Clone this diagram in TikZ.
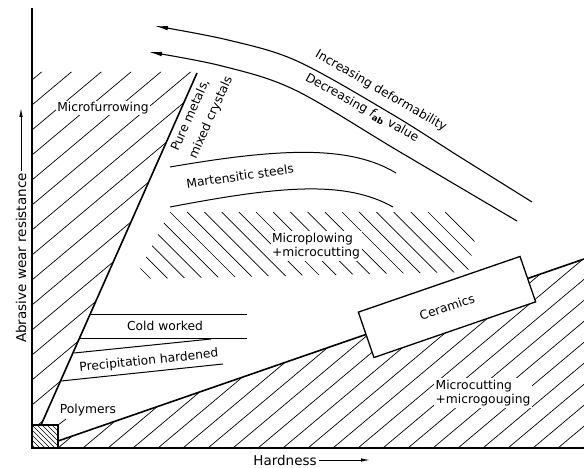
\documentclass[tikz,border=0pt]{standalone}
\usepackage{fontspec}
\setmainfont{DejaVu Sans}
\usetikzlibrary{arrows.meta}
\begin{document}
\begin{tikzpicture}[x=1pt,y=-1pt,
  thickline/.style={line width=1.6pt},
  thinline/.style={line width=1pt},
  hatch/.style={line width=0.7pt},
  lbl/.style={font=\fontsize{12.3}{14.5}\selectfont, inner sep=1.5pt},
  axlbl/.style={font=\fontsize{13.5}{16}\selectfont, inner sep=2pt},
  bigarrow/.style={line width=1.1pt, -{Latex[length=13pt,width=4.5pt]}},
  axarrow/.style={line width=0.9pt, -{Latex[length=9pt,width=3.5pt]}}]
\useasboundingbox (0,0) rectangle (584,468);

% ---------- hatching ----------
\begin{scope}
  \clip (32,72) -- (197,72) -- (41,425) -- (32,425) -- cycle;
  \foreach \k in {0,...,14} \draw[hatch] (32,80+25*\k) -- ++(300,-251.7);
\end{scope}
\begin{scope}
  \clip (58,441) -- (584,259) -- (584,448) -- (58,448) -- cycle;
  \foreach \k in {-4,...,17} \draw[hatch] (158+25*\k,448) -- ++(250,-209.8);
\end{scope}
\begin{scope}
  \clip (170,211) -- (458,211) -- (477,230) -- (468,272) -- (135,279) -- cycle;
  \foreach \k in {-5,...,17} \draw[hatch] (170+17.2*\k,212) -- ++(100,100);
\end{scope}
\begin{scope}
  \clip (32,425) rectangle (58,448);
  \foreach \k in {-6,...,6} \draw[hatch,line width=0.6pt] (32+5*\k,425) -- ++(30,30);
\end{scope}

% ---------- axes and boundaries ----------
\coordinate (ytop) at (32,8);
\coordinate (O) at (32,448);
\coordinate (xend) at (584,448);
\draw[thickline] (ytop) -- (O) -- (xend);
\coordinate (pb1) at (32,425);
\coordinate (pb2) at (58,448);
\draw[thickline] (pb1) rectangle (pb2);

\coordinate (pmBot) at (41,425);
\coordinate (pmTop) at (197,73);
\draw[thickline] (pmBot) -- (pmTop);
\coordinate (cbL) at (58,441);
\coordinate (cbR) at (584,259);
\draw[thickline] (cbL) -- (cbR);

% ---------- class lines ----------
\coordinate (m1a) at (170,167); \coordinate (m1b) at (396,173);
\draw[thinline] (m1a) .. controls (280,148) and (350,145) .. (m1b);
\coordinate (m2a) at (170,207); \coordinate (m2b) at (393,207);
\draw[thinline] (m2a) .. controls (280,186) and (345,180) .. (m2b);

\coordinate (c1a) at (90,314);  \coordinate (c1b) at (247,314);
\coordinate (c2a) at (80,338);  \coordinate (c2b) at (247,338);
\coordinate (p1a) at (74,353);  \coordinate (p1b) at (211,339);
\coordinate (p2a) at (61,381);  \coordinate (p2b) at (223,364);
\draw[thinline] (c1a) -- (c1b);
\draw[thinline] (c2a) -- (c2b);
\draw[thinline] (p1a) -- (p1b);
\draw[thinline] (p2a) -- (p2b);

\coordinate (lead1) at (58,425); \coordinate (lead2) at (66,419);
\draw[line width=0.7pt] (lead1) -- (lead2);

% ---------- big arrows ----------
\draw[bigarrow] plot[smooth, tension=0.55] coordinates
  {(532,202) (460,157) (390,113) (297,61) (228,40) (155,26)};
\draw[bigarrow] plot[smooth, tension=0.55] coordinates
  {(517,221) (400,152) (295,90) (222,66) (149,52)};

% ---------- labels ----------
\node[lbl, fill=white] (mf) at (103,108) {Microfurrowing};
\node[lbl, rotate=66, anchor=base west, inner sep=0pt] (pm1) at (178,152) {Pure metals,};
\node[lbl, rotate=66, anchor=base west, inner sep=0pt] (pm2) at (196,160) {mixed crystals};
\node[lbl, rotate=8] (ms) at (240,176) {Martensitic steels};
\node[lbl, fill=white, align=left] (mp) at (316,246) {Microplowing\\+microcutting};
\node[lbl] (cw) at (165,326) {Cold worked};
\node[lbl, rotate=6] (ph) at (149,361) {Precipitation hardened};
\node[lbl] (poly) at (88,410) {Polymers};
\node[lbl, draw, fill=white, line width=1.3pt, rotate=19,
      minimum width=171pt, minimum height=48pt] (cer) at (447,307) {Ceramics};
\node[lbl, fill=white, align=left] (mc) at (483,393) {Microcutting\\+microgouging};
\node[lbl, rotate=-30] (inc) at (381,91) {Increasing deformability};
\node[lbl, rotate=-29] (dec) at (362,108) {Decreasing {\itshape f}\textsubscript{\bfseries ab} value};

\node[axlbl, rotate=90] (yl) at (21,258) {Abrasive wear resistance};
\coordinate (ytip) at (21,108);
\draw[axarrow] (yl.east) -- (ytip);
\node[axlbl] (xl) at (285,460) {Hardness};
\coordinate (xtip) at (370,460);
\draw[axarrow] (xl.east) -- (xtip);
\end{tikzpicture}
\end{document}
